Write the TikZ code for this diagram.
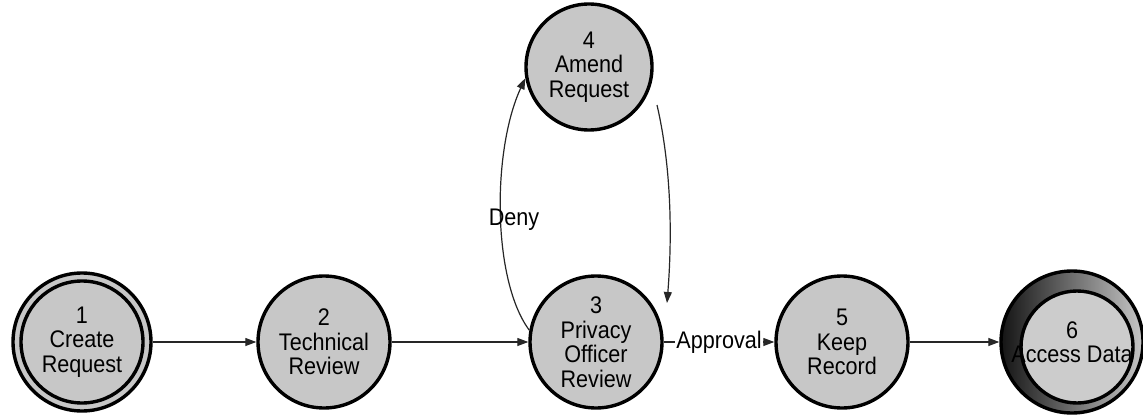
\documentclass[tikz,border=0pt]{standalone}
\usepackage{fontspec}
\setmainfont{Liberation Sans}[FakeStretch=0.9]
\usetikzlibrary{arrows.meta}
\begin{document}
\begin{tikzpicture}[x=1pt,y=-1pt,
  txt/.style={font=\fontsize{24}{24.5}\selectfont},
  state/.style={circle, draw=black, line width=3.4pt, fill=black!22,
    minimum size=132pt, inner sep=0pt, align=center, txt},
  flow/.style={-{Triangle[length=11pt,width=8pt]}, line width=1.2pt, draw=black!85},
  lbl/.style={txt, fill=white, inner sep=1pt}]
\useasboundingbox (0,0) rectangle (1143,417);

% start state: double circle
\node[state, minimum size=138pt] (n1) at (82,342) {};
\draw[line width=3.4pt] (n1.center) circle (61);
\node[txt, align=center] (t1) at (n1.center) {1\\Create\\Request};

\node[state] (n2) at (324,342) {2\\Technical\\Review};
\node[state] (n3) at (596,342) {3\\Privacy\\Officer\\Review};
\node[state, minimum size=126pt] (n4) at (589,67) {4\\Amend\\Request};
\node[state] (n5) at (842,342) {5\\Keep\\Record};

% final state: shaded ring with offset inner circle
\node[circle, draw=black, line width=3.4pt, minimum size=142pt, inner sep=0pt,
  left color=black!92, right color=black!22] (n6) at (1072,342) {};
\draw[line width=3.4pt, fill=black!20] (1077,347) circle (56);
\node[txt, align=center] (t6) at (n6.center) {6\\Access Data};

% connectors
\draw[flow] (n1) -- (n2);
\draw[flow] (n2) -- (n3);
\draw[flow] (n3) -- node[lbl] (appr) {Approval} (n5);
\draw[flow] (n5) -- (n6);

\draw[flow] (n3.170) .. controls (492,280) and (492,150) .. (n4.190);
\node[txt] (deny) at (514,220) {Deny};

\coordinate (r4) at (657,105);
\coordinate (r3) at (667,303);
\draw[flow] (r4) .. controls (672,170) and (672,240) .. (r3);
\end{tikzpicture}
\end{document}
